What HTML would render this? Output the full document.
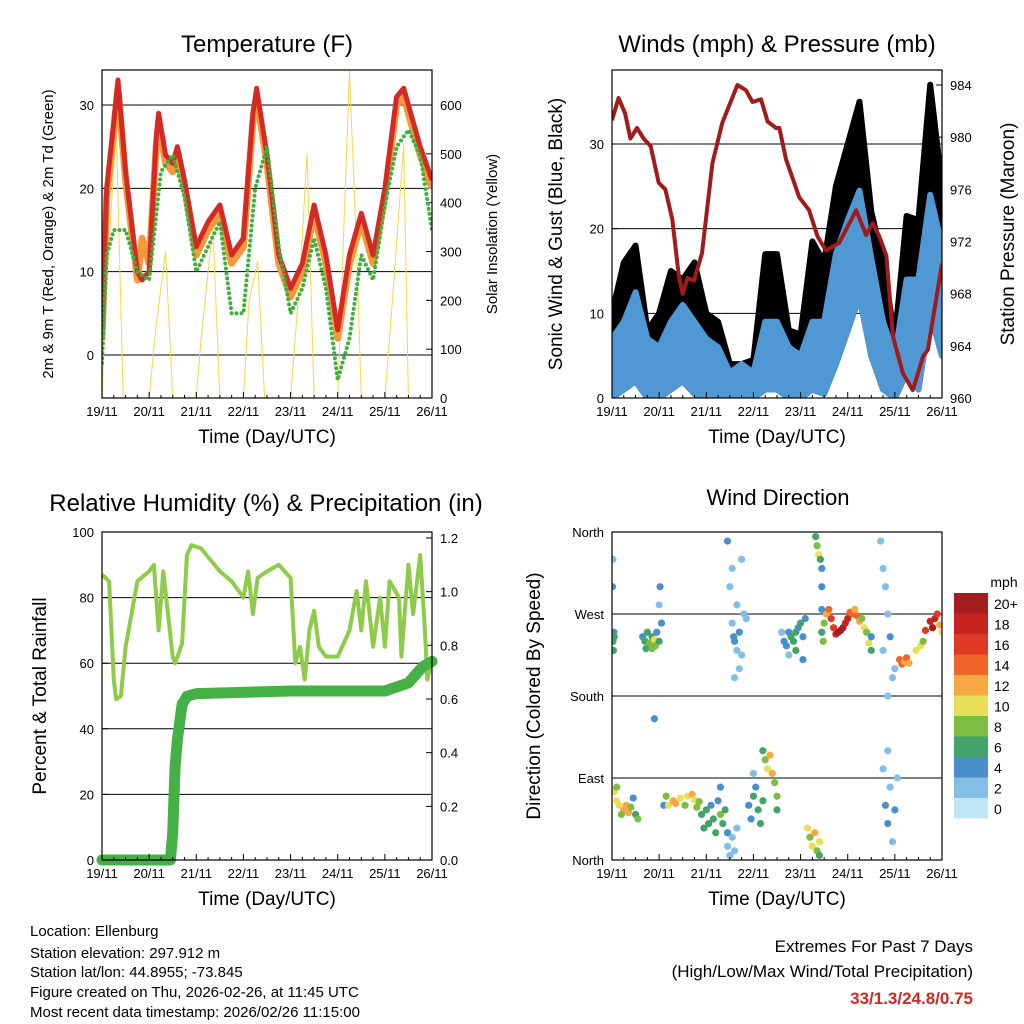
<!DOCTYPE html>
<html><head><meta charset="utf-8"><style>
body{margin:0;background:#fff}
svg{display:block;font-family:"Liberation Sans",sans-serif}
</style></head><body>
<svg id="c" width="1024" height="1024" viewBox="0 0 1024 1024"></svg>
<script>
// ---------- DATA ----------
const dayLabels=["19/11","20/11","21/11","22/11","23/11","24/11","25/11","26/11"];
const tempT=[0,0.1,0.25,0.34,0.5,0.75,0.85,1,1.15,1.2,1.35,1.5,1.6,1.75,2,2.25,2.5,2.75,3,3.2,3.28,3.5,3.75,4,4.25,4.5,4.75,5,5.25,5.5,5.75,6,6.25,6.4,6.5,6.75,7];
const tempRed=[3,20,28,33,22,10,9,10,26,29,24,23,25,21,13,16,18,12,14,29,32,24,12,8,11,18,12,3,12,17,12,20,31,32,30,25,21];
const tempOrange=[2,19,27,32,21,9,14,11,25,28,23,22,24,20,12,15,17,11,13,28,31,23,11,7,10,17,11,2,11,16,11,19,30,31,29,24,20];
const dewT=[0,0.1,0.25,0.5,0.75,1,1.25,1.5,1.75,2,2.25,2.5,2.75,3,3.25,3.5,3.75,4,4.25,4.5,4.75,5,5.25,5.5,5.75,6,6.25,6.5,6.75,7];
const dewV=[-1,12,15,15,10,9,22,24,19,10,13,16,5,5,20,25,13,5,8,14,8,-3,2,12,9,18,25,27,24,15];
const solarT=[0,0.08,0.3,0.45,1,1.15,1.35,1.5,2,2.1,2.35,2.5,3,3.12,3.3,3.45,4,4.2,4.35,4.5,5,5.25,5.4,5.5,6,6.2,6.4,6.5,7];
const solarV=[0,200,560,0,0,150,300,0,0,120,350,0,0,200,280,0,0,250,500,0,0,670,300,0,0,250,520,0,0];
const windT=[0,0.25,0.5,0.75,1,1.25,1.5,1.75,2,2.25,2.5,2.75,3,3.25,3.5,3.75,4,4.25,4.5,4.75,5,5.25,5.5,5.75,6,6.25,6.5,6.75,7];
const windTop=[7,9,12.5,7,6,9,11,9,7,6,3,4,3,9,9,6,5,9,9,17,21,24.5,16.5,9,5,14,14,24,18];
const windLow=[0,1,2,0,0,1,2,0.5,0,0,0,0,0,1,1,0,0,1,0.5,4,8,12,5,1,0,3,1,10,5];
const windGust=[10,16,18,8,10,15,14,16,10,9,4,4,4.5,17,17,8,7.5,18.5,16,25,30,35,22,16,7,21.5,21,37,25];
const presT=[0,0.14,0.28,0.39,0.53,0.67,0.82,0.99,1.13,1.28,1.42,1.5,1.6,1.74,1.91,2.13,2.34,2.66,2.84,2.98,3.16,3.3,3.48,3.55,3.69,3.97,4.18,4.36,4.54,4.82,5.18,5.39,5.53,5.67,5.82,5.96,6.17,6.38,6.6,6.7,7.0];
const presV=[981.3,983,981.8,979.9,980.7,979.9,979.3,976.5,976,973.7,969.3,968,969.2,969,971.1,978,981.1,984,983.6,982.7,982.9,981.2,980.7,980.7,978.3,975.4,974.4,972.4,971.3,971.9,974.4,972.5,973.4,972.4,970.9,964.7,961.9,960.6,963.2,963.7,970.3];
const rhT=[0,0.15,0.25,0.3,0.4,0.5,0.75,1,1.1,1.2,1.3,1.5,1.55,1.7,1.8,1.9,2.1,2.5,2.75,2.9,3,3.1,3.2,3.3,3.5,3.75,4,4.1,4.2,4.3,4.4,4.5,4.6,4.75,5,5.25,5.4,5.5,5.6,5.75,5.9,6,6.1,6.3,6.35,6.5,6.6,6.75,6.85,6.9,7];
const rhV=[87,85,55,49,50,65,85,88,90,70,88,62,60,66,93,96,95,88,85,82,80,88,75,86,88,90,86,60,65,55,70,76,65,62,62,70,82,70,85,65,80,65,85,80,62,90,75,93,70,55,61];
const prT=[0,1.45,1.5,1.55,1.6,1.7,1.8,2,4,6,6.5,6.8,7];
const prV=[0,0,0.1,0.35,0.45,0.58,0.61,0.62,0.63,0.63,0.66,0.72,0.74];
const dirT=[0.02,0.04,0.03,0.01,0.02,0.05,0.65,0.7,0.75,0.8,0.85,0.9,0.92,0.95,1.0,1.05,1.02,0.9,1.0,0.72,0.85,2.45,2.5,2.55,2.6,2.65,2.7,2.75,2.8,2.85,2.6,2.55,2.7,2.65,2.58,2.75,3.6,3.65,3.7,3.75,3.8,3.85,3.9,3.95,4.0,4.05,4.1,3.75,3.9,4.05,4.32,4.35,4.38,4.42,4.45,4.45,4.45,4.45,4.48,4.5,4.55,4.6,4.65,4.7,4.75,4.8,4.85,4.9,4.95,5.0,5.05,5.1,5.15,5.2,5.25,5.3,5.35,5.4,5.45,5.5,5.5,5.7,5.75,5.8,5.85,5.9,5.95,5.75,5.85,6.0,6.1,6.15,6.2,6.25,6.3,6.45,6.55,6.6,6.65,6.75,6.8,6.85,6.9,6.95,7.0,0.05,0.1,0.15,0.25,0.3,0.35,0.4,0.5,0.55,0.45,0.1,0.2,1.1,1.15,1.2,1.3,1.35,1.45,1.55,1.6,1.7,1.75,1.8,1.85,1.9,1.95,2.0,2.05,2.1,2.15,2.2,2.25,2.3,2.35,2.4,2.45,2.3,2.45,2.5,2.55,2.6,2.65,2.9,2.95,3.0,3.05,3.1,3.15,3.2,3.0,3.2,3.25,3.3,3.35,3.4,3.45,3.5,3.5,4.15,4.2,4.25,4.3,4.35,4.4,4.4,5.75,5.8,5.85,5.9,5.95,6.0,6.05,5.85];
const dirV=[240,250,230,300,330,245,245,240,250,238,245,242,235,250,240,260,300,155,280,232,232,350,300,260,240,230,250,330,270,265,200,320,210,280,245,225,250,240,235,250,245,240,250,255,260,245,265,225,230,220,355,345,335,330,320,300,275,250,240,260,270,275,265,255,248,250,252,255,260,265,272,270,275,268,262,265,255,250,238,230,245,350,320,300,270,245,200,230,180,210,220,215,218,222,216,230,235,240,252,262,255,265,270,258,250,75,65,60,55,60,52,58,50,45,68,80,50,60,70,60,65,62,68,60,70,72,66,58,64,50,35,55,40,60,45,30,65,50,40,55,30,80,15,5,25,10,35,60,45,70,80,55,40,65,95,120,110,100,115,95,85,70,55,35,25,15,30,10,5,20,100,60,40,80,20,55,90,120];
const dirS=[5,4,6,3,2,6,4,6,5,7,6,9,8,4,5,3,4,4,2,6,7,3,1,2,4,1,3,1,2,1,1,1,2,1,4,1,2,4,3,4,5,6,6,4,5,3,4,2,5,3,6,8,10,6,4,4,3,5,7,8,12,13,16,15,18,20,20,20,18,17,14,13,12,14,12,8,10,8,10,6,4,1,1,1,2,3,1,2,1,2,13,14,12,13,11,10,9,8,16,18,20,17,16,12,10,9,10,10,12,11,12,8,6,7,4,7,8,4,8,10,12,12,10,8,10,11,10,8,8,6,6,5,6,4,6,5,4,7,6,5,3,4,1,1,1,1,1,3,4,5,3,6,6,5,2,5,8,10,12,12,8,7,6,9,8,10,11,8,6,10,2,3,4,2,2,3,2,2];
const cbLabels=["20+","18","16","14","12","10","8","6","4","2","0"];
const cbColors=["#a61d1d","#c8241f","#de3a25","#f0652a","#f8a843","#e7df5a","#7dbd44","#44a36a","#4a8fca","#84bde6","#bfe5f6"];

// ---------- HELPERS ----------
const svg=document.getElementById('c');
const NS="http://www.w3.org/2000/svg";
function mk(tag,attrs,parent){const e=document.createElementNS(NS,tag);for(const k in attrs)e.setAttribute(k,attrs[k]);(parent||svg).appendChild(e);return e;}
function txt(s,x,y,size,anchor,rot,parent,extra){const e=mk('text',Object.assign({x:x,y:y,'font-size':size,'text-anchor':anchor||'middle',fill:'#000'},extra||{}),parent);if(rot)e.setAttribute('transform','rotate('+rot+' '+x+' '+y+')');e.textContent=s;return e;}
function lin(d0,d1,r0,r1){return v=>r0+(v-d0)*(r1-r0)/(d1-d0);}
function poly(xs,ys){return xs.map((x,i)=>x.toFixed(1)+','+ys[i].toFixed(1)).join(' ');}

function frame(g,x0,x1,y0,y1,name){
  const r=mk('rect',{x:x0,y:y0,width:x1-x0,height:y1-y0,fill:'none',stroke:'#000','stroke-width':1.2},g);
  
}
function timeAxis(g,x0,x1,y1,name){
  const X=lin(0,7,x0,x1);
  const ax=mk('g',{},g);
  for(let i=0;i<=7;i++){
    mk('line',{x1:X(i),x2:X(i),y1:y1,y2:y1-6,stroke:'#000'},ax);
    txt(dayLabels[i],X(i),y1+18,13,'middle',0,ax);
    if(i<7)for(let k=1;k<4;k++)mk('line',{x1:X(i+k/4),x2:X(i+k/4),y1:y1,y2:y1-3,stroke:'#000'},ax);
  }
  const t=txt("Time (Day/UTC)",(x0+x1)/2,y1+45,19,'middle',0,ax);
  
  return X;
}
function yTicks(g,vals,labels,Y,x,side,grid,x0,x1,name){
  const ax=mk('g',{},g);
  vals.forEach((v,i)=>{
    const y=Y(v);
    if(grid)mk('line',{x1:x0,x2:x1,y1:y,y2:y,stroke:'#000','stroke-width':1},ax);
    mk('line',{x1:x,x2:x+(side<0?6:-6),y1:y,y2:y,stroke:'#000'},ax);
    txt(labels[i],side<0?x-8:x+8,y+5,13,side<0?'end':'start',0,ax);
  });
}

// ---------- PANEL 1 TEMPERATURE ----------
(function(){
  const g=mk('g',{});
  const x0=102,x1=432,y0=70,y1=398;
  const X=lin(0,7,x0,x1),Y=lin(0,30,355,105),YS=lin(0,600,398,105);
  const cpd=mk('clipPath',{id:'cp1'},g);mk('rect',{x:x0,y:y0,width:x1-x0,height:y1-y0},cpd);
  yTicks(g,[0,10,20,30],["0","10","20","30"],Y,x0,-1,true,x0,x1,'temp-left-axis');
  yTicks(g,[0,100,200,300,400,500,600],["0","100","200","300","400","500","600"],YS,x1,1,false,x0,x1,'solar-right-axis');
  const d=mk('g',{'clip-path':'url(#cp1)'},g);
  const s=mk('polyline',{points:poly(solarT.map(X),solarV.map(YS)),fill:'none',stroke:'#f7d64a','stroke-width':1},d);
  
  const o=mk('polyline',{points:poly(tempT.map(X),tempOrange.map(Y)),fill:'none',stroke:'#f59a3a','stroke-width':7,'stroke-linejoin':'round'},d);
  
  const r=mk('polyline',{points:poly(tempT.map(X),tempRed.map(Y)),fill:'none',stroke:'#d42a26','stroke-width':5,'stroke-linejoin':'round'},d);
  
  const gr=mk('polyline',{points:poly(dewT.map(X),dewV.map(Y)),fill:'none',stroke:'#3fae3f','stroke-width':4,'stroke-dasharray':'0 5','stroke-linecap':'round'},d);
  
  frame(g,x0,x1,y0,y1,'temp');
  timeAxis(g,x0,x1,y1,'temp');
  const t=txt("Temperature (F)",267,52,24,'middle',0,g);
  const l=txt("2m & 9m T (Red, Orange) & 2m Td (Green)",53,234,15,'middle',-90,g);
  const rr=txt("Solar Insolation (Yellow)",497,234,15,'middle',-90,g);
})();

// ---------- PANEL 2 WINDS ----------
(function(){
  const g=mk('g',{});
  const x0=612,x1=942,y0=70,y1=398;
  const X=lin(0,7,x0,x1),Y=lin(0,30,398,144),YP=lin(960,984,398,85);
  const cpd=mk('clipPath',{id:'cp2'},g);mk('rect',{x:x0,y:y0,width:x1-x0,height:y1-y0},cpd);
  yTicks(g,[0,10,20,30],["0","10","20","30"],Y,x0,-1,true,x0,x1,'wind-left-axis');
  yTicks(g,[960,964,968,972,976,980,984],["960","964","968","972","976","980","984"],YP,x1,1,false,x0,x1,'pressure-right-axis');
  const d=mk('g',{'clip-path':'url(#cp2)'},g);
  const gx=windT.map(X);
  const rev=gx.slice().reverse();
  const gp=mk('polygon',{points:poly(gx.concat(rev),windGust.map(Y).concat(windLow.map(Y).reverse())),fill:'#000',stroke:'#000','stroke-width':6,'stroke-linejoin':'round'},d);
  
  const bp=mk('polygon',{points:poly(gx.concat(rev),windTop.map(Y).concat(windLow.map(Y).reverse())),fill:'#4f98d4',stroke:'#4f98d4','stroke-width':6,'stroke-linejoin':'round'},d);
  
  const p=mk('polyline',{points:poly(presT.map(X),presV.map(YP)),fill:'none',stroke:'#a01c1c','stroke-width':4,'stroke-linejoin':'round'},d);
  
  frame(g,x0,x1,y0,y1,'wind');
  timeAxis(g,x0,x1,y1,'wind');
  const t=txt("Winds (mph) & Pressure (mb)",777,52,24,'middle',0,g);
  const l=txt("Sonic Wind & Gust (Blue, Black)",562,234,19,'middle',-90,g);
  const r=txt("Station Pressure (Maroon)",1014,234,19,'middle',-90,g);
})();

// ---------- PANEL 3 RH ----------
(function(){
  const g=mk('g',{});
  const x0=102,x1=432,y0=532,y1=860;
  const X=lin(0,7,x0,x1),Y=lin(0,100,860,532),YR=lin(0,1.2,860,538);
  const cpd=mk('clipPath',{id:'cp3'},g);mk('rect',{x:x0-8,y:y0,width:x1-x0+16,height:y1-y0+8},cpd);
  yTicks(g,[0,20,40,60,80,100],["0","20","40","60","80","100"],Y,x0,-1,true,x0,x1,'rh-left-axis');
  yTicks(g,[0,0.2,0.4,0.6,0.8,1.0,1.2],["0.0","0.2","0.4","0.6","0.8","1.0","1.2"],YR,x1,1,false,x0,x1,'precip-right-axis');
  const d=mk('g',{'clip-path':'url(#cp3)'},g);
  const rh=mk('polyline',{points:poly(rhT.map(X),rhV.map(Y)),fill:'none',stroke:'#8fcb4a','stroke-width':4,'stroke-linejoin':'round'},d);
  
  const pr=mk('polyline',{points:poly(prT.map(X),prV.map(YR)),fill:'none',stroke:'#45b045','stroke-width':11,'stroke-linejoin':'round','stroke-linecap':'round'},d);
  
  frame(g,x0,x1,y0,y1,'rh');
  timeAxis(g,x0,x1,y1,'rh');
  const t=txt("Relative Humidity (%) & Precipitation (in)",266,511,24,'middle',0,g);
  const l=txt("Percent & Total Rainfall",46,696,19,'middle',-90,g);
})();

// ---------- PANEL 4 WIND DIRECTION ----------
(function(){
  const g=mk('g',{});
  const x0=612,x1=942,y0=532,y1=860;
  const X=lin(0,7,x0,x1),Y=lin(0,360,860,532);
  yTicks(g,[0,90,180,270,360],["North","East","South","West","North"],Y,x0,-1,true,x0,x1,'direction-axis');
  const cpd=mk('clipPath',{id:'cp4'},g);mk('rect',{x:x0,y:y0,width:x1-x0,height:y1-y0},cpd);
  const d=mk('g',{'clip-path':'url(#cp4)'},g);
  dirT.forEach((t,i)=>{
    const idx=Math.min(10,Math.round(dirS[i]/2));
    const c=mk('circle',{cx:X(t),cy:Y(dirV[i]),r:3.6,fill:cbColors[10-idx]},d);
    
    
  });
  frame(g,x0,x1,y0,y1,'dir');
  timeAxis(g,x0,x1,y1,'dir');
  const t=txt("Wind Direction",778,505,22,'middle',0,g);
  const l=txt("Direction (Colored By Speed)",540,696,19,'middle',-90,g);
  const cb=mk('g',{},g);
  txt("mph",1004,587,14,'middle',0,cb);
  cbLabels.forEach((lab,i)=>{
    const y=593+i*20.5;
    const r=mk('rect',{x:954,y:y,width:34,height:20.5,fill:cbColors[i]},cb);
    
    txt(lab,994,y+16,14,'start',0,cb);
  });
})();

// ---------- FOOTER ----------
(function(){
  const g=mk('g',{});
  const lines=["Location: Ellenburg","Station elevation: 297.912 m","Station lat/lon: 44.8955; -73.845","Figure created on Thu, 2026-02-26, at 11:45 UTC","Most recent data timestamp: 2026/02/26 11:15:00"];
  const ys=[936,958,977,997,1017];
  lines.forEach((s,i)=>txt(s,30,ys[i],15,'start',0,g));
  const e=mk('g',{});
  txt("Extremes For Past 7 Days",973,952,17,'end',0,e);
  txt("(High/Low/Max Wind/Total Precipitation)",973,977,17,'end',0,e);
  txt("33/1.3/24.8/0.75",973,1004,17,'end',0,e,{'font-weight':'bold',fill:'#d02828'});
})();
</script>
</body></html>
